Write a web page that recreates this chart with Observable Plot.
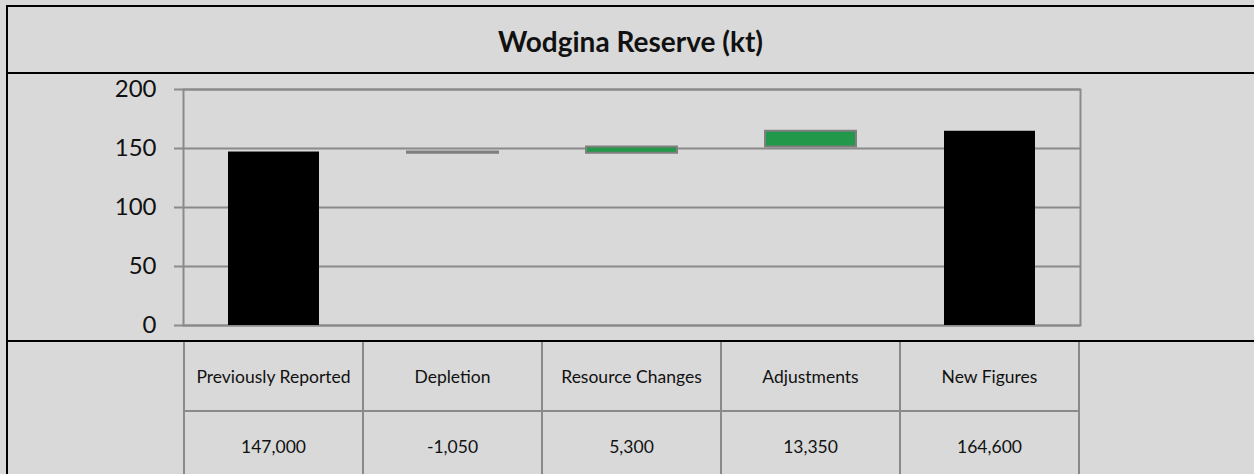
<!DOCTYPE html>
<html>
<head>
<meta charset="utf-8">
<script src="https://cdn.jsdelivr.net/npm/d3@7"></script>
<script src="https://cdn.jsdelivr.net/npm/@observablehq/plot@0.6"></script>
<style>
  html, body { margin: 0; padding: 0; background: #d9d9d9; }
  #wrap { position: relative; width: 1254px; height: 474px; overflow: hidden; background: #d9d9d9; font-family: Lato, "Open Sans", sans-serif; color: #111; }
  .hline { position: absolute; background: #000; height: 2px; }
  .vline { position: absolute; background: #000; width: 2px; }
  #title { position: absolute; left: 7px; right: 0; top: 7px; height: 67px; display: flex; align-items: center; justify-content: center; font-weight: bold; font-size: 28px; }
  #chart { position: absolute; left: 0; top: 74px; }
  .cell { position: absolute; display: flex; align-items: center; justify-content: center; font-size: 17.5px; }
  .gline { position: absolute; background: #8a8a8a; }
</style>
</head>
<body>
<div id="wrap">
  <div class="hline" style="left:6px; top:5px; width:1260px;"></div>
  <div class="vline" style="left:6px; top:5px; height:480px;"></div>
  <div id="title"></div>
  <div class="hline" style="left:6px; top:72px; width:1260px;"></div>
  <div id="chart"></div>
  <div class="hline" style="left:6px; top:340px; width:1260px;"></div>
  <div id="table"></div>
</div>
<script>
const title = "Wodgina Reserve (kt)";
const categories = ["Previously Reported", "Depletion", "Resource Changes", "Adjustments", "New Figures"];
const values = [147, -1.05, 5.3, 13.35, 164.6]; // kt
const kinds = ["total", "delta", "delta", "delta", "total"];
const yTicks = [0, 50, 100, 150, 200];

document.getElementById("title").textContent = title;

// waterfall rows
let run = 0;
const rows = categories.map((c, i) => {
  let y1, y2;
  if (kinds[i] === "total") { y1 = 0; y2 = values[i]; run = values[i]; }
  else { y1 = run; y2 = run + values[i]; run = y2; }
  return { cat: c, y1, y2, kind: kinds[i], value: values[i] };
});
const colorOf = d => d.kind === "total" ? "#000" : (d.value < 0 ? "#7f7f7f" : "#22994a");
const strokeOf = d => d.kind === "total" ? "#000" : "#7f7f7f";

const W = 1254, H = 266;
const chart = Plot.plot({
  width: W, height: H,
  marginLeft: 183, marginRight: 174, marginTop: 15, marginBottom: 15,
  style: { background: "transparent", fontFamily: "Lato, 'Open Sans', sans-serif" },
  x: { type: "band", domain: categories, paddingInner: 0.49, paddingOuter: 0.245, axis: null },
  y: { domain: [0, 200], axis: null },
  marks: [
    Plot.gridY(yTicks, { stroke: "#8a8a8a", strokeOpacity: 1, strokeWidth: 2 }),
    Plot.frame({ stroke: "#8a8a8a", strokeWidth: 2 }),
    Plot.axisY(yTicks, { tickSize: 9, tickPadding: 18, fontSize: 24, stroke: "#8a8a8a", strokeWidth: 2, fill: "#111", tickFormat: d => String(d) }),
    Plot.barY(rows, { x: "cat", y1: "y1", y2: "y2", fill: colorOf, stroke: strokeOf, strokeWidth: d => d.kind === "total" ? 0 : 2, inset: 0 })
  ]
});
document.getElementById("chart").appendChild(chart);

// table aligned to the x scale
const xs = chart.scale("x");
const step = xs.step, bw = xs.bandwidth;
const tbl = document.getElementById("table");
const top0 = 342, row1 = 410, rowH = 68;
const edges = categories.map(c => xs.apply(c) + bw / 2 - step / 2);
edges.push(edges[edges.length - 1] + step);
edges.forEach(x => {
  const v = document.createElement("div");
  v.className = "gline";
  v.style.cssText = `left:${x - 1}px; top:${top0}px; width:2px; height:${474 - top0}px;`;
  tbl.appendChild(v);
});
const hr = document.createElement("div");
hr.className = "gline";
hr.style.cssText = `left:${edges[0]}px; top:${row1}px; width:${edges[edges.length-1]-edges[0]}px; height:2px;`;
tbl.appendChild(hr);
categories.forEach((c, i) => {
  const a = document.createElement("div");
  a.className = "cell";
  a.style.cssText = `left:${edges[i]}px; width:${step}px; top:${top0}px; height:${row1 - top0}px;`;
  a.textContent = c;
  tbl.appendChild(a);
  const b = document.createElement("div");
  b.className = "cell";
  b.style.cssText = `left:${edges[i]}px; width:${step}px; top:${row1 + 2}px; height:${rowH}px;`;
  b.textContent = Math.round(values[i] * 1000).toLocaleString("en-US");
  tbl.appendChild(b);
});
</script>
</body>
</html>
